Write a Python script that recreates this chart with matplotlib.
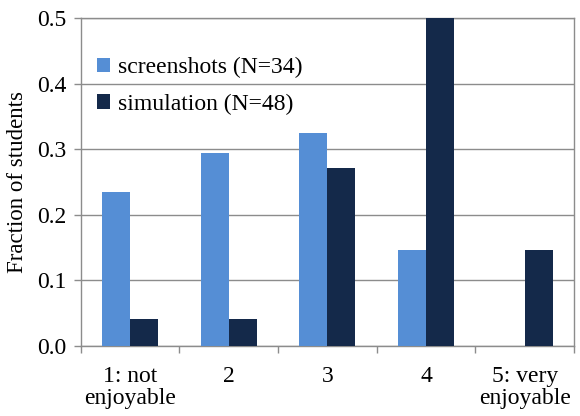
import matplotlib
matplotlib.use("Agg")
import matplotlib.pyplot as plt
import numpy as np

categories = ["1: not\nenjoyable", "2", "3", "4", "5: very\nenjoyable"]
screenshots = [0.235, 0.294, 0.324, 0.147, 0.0]
simulation = [0.042, 0.042, 0.271, 0.500, 0.146]
yticks = [0.0, 0.1, 0.2, 0.3, 0.4, 0.5]
series_labels = ["screenshots (N=34)", "simulation (N=48)"]

plt.rcParams['font.family'] = ['Liberation Serif', 'DejaVu Serif']
fig = plt.figure(figsize=(5.8, 4.16), dpi=100)
ax = fig.add_axes([0.139, 0.168, 0.851, 0.789])

x = np.arange(len(categories))
w = 0.283
gcol = '#8c8c8c'
ax.bar(x - w/2, screenshots, w, color='#558ED5', label=series_labels[0], zorder=3)
ax.bar(x + w/2, simulation, w, color='#14294A', label=series_labels[1], zorder=3)

ax.set_xlim(-0.5, len(categories) - 0.5)
ax.set_ylim(0, 0.5)
ax.set_yticks(yticks)
ax.set_yticklabels([f"{v:.1f}" for v in yticks], fontsize=17)
ax.set_xticks(x)
ax.set_xticklabels(categories, fontsize=17, linespacing=1.1)
ax.set_xticks(np.arange(len(categories) + 1) - 0.5, minor=True)
ax.tick_params(axis='x', which='major', length=0, pad=14)
ax.tick_params(axis='x', which='minor', length=5, color=gcol, width=1)
ax.tick_params(axis='y', length=5, color=gcol, width=1, pad=5)
ax.yaxis.grid(True, color=gcol, linewidth=1, zorder=0)
for s in ax.spines.values():
    s.set_color(gcol)
    s.set_linewidth(1)
ax.set_ylabel("Fraction of students", fontsize=16.5, labelpad=7)

leg = ax.legend(loc='upper left', bbox_to_anchor=(-0.01, 0.945), frameon=False,
                fontsize=17, handlelength=0.55, handleheight=0.55, handletextpad=0.35,
                labelspacing=0.65, borderaxespad=0.5)

fig.savefig("out.png", dpi=100)
